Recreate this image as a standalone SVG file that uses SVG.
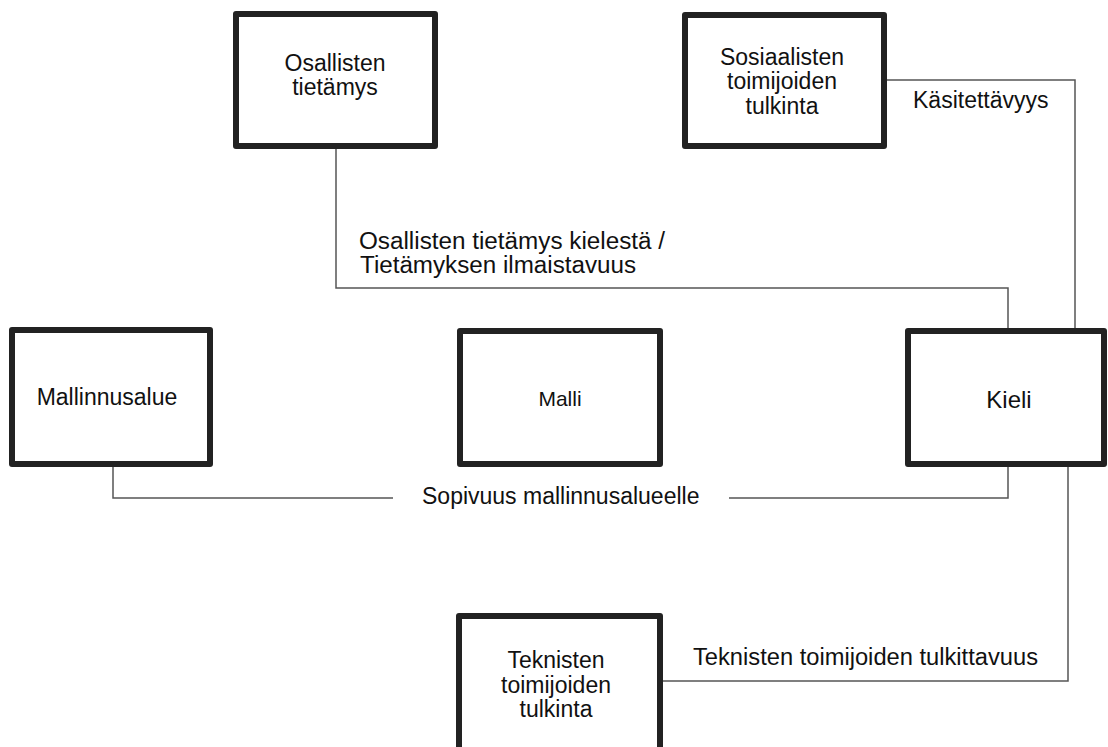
<svg xmlns="http://www.w3.org/2000/svg" width="1108" height="747" viewBox="0 0 1108 747">
  <style>
    .box { fill: #ffffff; stroke: #222222; stroke-width: 6; stroke-linejoin: round; }
    .wire { fill: none; stroke: #555555; stroke-width: 1.5; }
    text { font-family: "Liberation Sans", Arial, sans-serif; font-size: 23px; fill: #111111; }
    .c { text-anchor: middle; }
  </style>
  <rect width="1108" height="747" fill="#ffffff"/>

  <!-- connectors -->
  <g id="connectors">
    <path class="wire" d="M336 149 V288 H1008 V328"/>
    <path class="wire" d="M887 80 H1075 V328"/>
    <path class="wire" d="M113 467 V498 H393"/>
    <path class="wire" d="M729 498 H1008 V467"/>
    <path class="wire" d="M1068 467 V681 H663"/>
  </g>

  <!-- connector labels -->
  <g id="labels">
    <text x="359" y="249" textLength="306" lengthAdjust="spacingAndGlyphs">Osallisten tietämys kielestä /</text>
    <text x="360" y="273" textLength="276" lengthAdjust="spacingAndGlyphs">Tietämyksen ilmaistavuus</text>
    <text x="913" y="108">Käsitettävyys</text>
    <text x="422" y="504">Sopivuus mallinnusalueelle</text>
    <text x="693" y="665" textLength="345" lengthAdjust="spacingAndGlyphs">Teknisten toimijoiden tulkittavuus</text>
  </g>

  <g id="osallisten">
    <rect class="box" x="236" y="14" width="199" height="132"/>
    <text class="c" x="335" y="71">Osallisten</text>
    <text class="c" x="335" y="95">tietämys</text>
  </g>

  <g id="sosiaalisten">
    <rect class="box" x="685" y="15" width="199" height="131"/>
    <text class="c" x="782" y="65">Sosiaalisten</text>
    <text class="c" x="782" y="89">toimijoiden</text>
    <text class="c" x="782" y="114">tulkinta</text>
  </g>

  <g id="mallinnusalue">
    <rect class="box" x="12" y="330" width="198" height="134"/>
    <text class="c" x="107" y="405">Mallinnusalue</text>
  </g>

  <g id="malli">
    <rect class="box" x="460" y="331" width="200" height="133"/>
    <text class="c" x="560" y="406" style="font-size:21px">Malli</text>
  </g>

  <g id="kieli">
    <rect class="box" x="908" y="331" width="196" height="133"/>
    <text class="c" x="1009" y="408" style="font-size:24px">Kieli</text>
  </g>

  <g id="teknisten">
    <rect class="box" x="459" y="616" width="201" height="150"/>
    <text class="c" x="556" y="668">Teknisten</text>
    <text class="c" x="556" y="693">toimijoiden</text>
    <text class="c" x="556" y="717">tulkinta</text>
  </g>
</svg>
